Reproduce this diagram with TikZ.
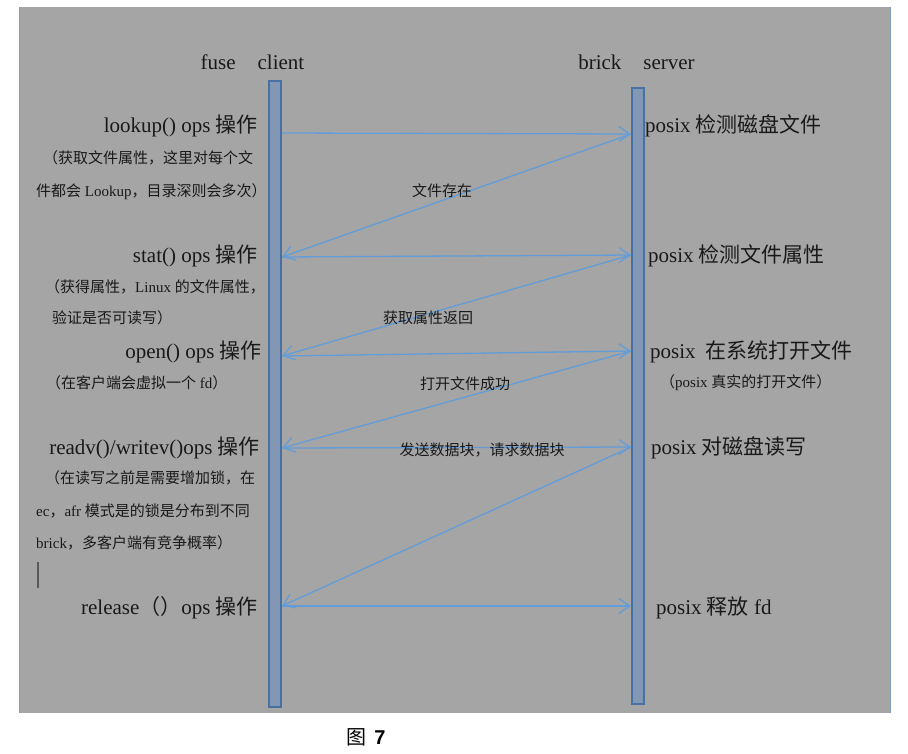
\documentclass[tikz,border=0pt]{standalone}
\usepackage{fontspec}
\setmainfont{Liberation Serif}
\newfontfamily\cjk{Noto Sans CJK SC}
\newfontfamily\capfont{Liberation Sans}
\usetikzlibrary{arrows.meta,positioning,calc}

\definecolor{bggray}{RGB}{165,165,165}
\definecolor{framecol}{RGB}{128,156,192}
\definecolor{barfill}{RGB}{130,151,180}
\definecolor{barline}{RGB}{72,112,160}
\definecolor{msgblue}{RGB}{98,157,218}

\newcommand{\zh}[1]{{\cjk #1}}
\newcommand{\bigfont}{\fontsize{21}{25}\selectfont}
\newcommand{\notefont}{\fontsize{15}{18}\selectfont}

\tikzset{
  lifeline/.style={draw=barline,fill=barfill,line width=2pt,minimum width=12pt,inner sep=0pt},
  msg/.style={draw=msgblue,line width=1.3pt,-{Straight Barb[length=11pt,width=15pt]}},
  optext/.style={font=\bigfont,inner sep=0pt,text=black!90},
  note/.style={font=\notefont,inner sep=0pt,text=black!90},
}

\begin{document}
\begin{tikzpicture}[x=1pt,y=-1pt]
    \useasboundingbox (0,0) rectangle (908,753);
    % background panel
    \fill[bggray] (19,7) rectangle (890,713);
    \draw[framecol,line width=1pt] (19,7) -- (19,713);
    \draw[framecol,line width=1pt] (890,7) -- (890,713);
    % lifelines
    \node[optext] (fuse) at (252.5,62) {fuse\hspace{22pt}client};
    \node[optext] (brick) at (636.5,62) {brick\hspace{22pt}server};
    \node[lifeline,minimum height=626pt] (client) at (275,394) {};
    \node[lifeline,minimum height=616pt] (server) at (637.5,396) {};
    % message end points on the bars
    \foreach \i/\y in {1/133,2/257,3/356,4/448,5/606}
      \coordinate (c\i) at (282,\y);
    \foreach \i/\y in {1/134,2/255,3/351,4/447,5/606}
      \coordinate (s\i) at (631,\y);
    % messages
    \foreach \a/\b in {c1/s1,s1/c2,c2/s2,s2/c3,c3/s3,s3/c4,c4/s4,s4/c5,c5/s5}
      \draw[msg] (\a) -- (\b);
    \node[note] (exist) at (442,191) {\zh{文件存在}};
    \node[note] (attrback) at (428,318) {\zh{获取属性返回}};
    \node[note] (opened) at (465,384) {\zh{打开文件成功}};
    \node[note] (blocks) at (482,450) {\zh{发送数据块，请求数据块}};
    % client side operations
    \node[optext,anchor=east] (lookup) at (258,126) {lookup() ops \zh{操作}};
    \node[note,anchor=west] (lookupa) at (43,158) {\zh{（获取文件属性，这里对每个文}};
    \node[note,anchor=west] (lookupb) at (36,192) {\zh{件都会} Lookup\zh{，目录深则会多次）}};
    \node[optext,anchor=east] (stat) at (258,256) {stat() ops \zh{操作}};
    \node[note,anchor=west] (stata) at (45,287) {\zh{（获得属性，}Linux \zh{的文件属性，}};
    \node[note,anchor=west] (statb) at (52,318) {\zh{验证是否可读写）}};
    \node[optext,anchor=east] (open) at (262,352) {open() ops \zh{操作}};
    \node[note,anchor=west] (opena) at (46,383) {\zh{（在客户端会虚拟一个} fd\zh{）}};
    \node[optext,anchor=east] (rw) at (260,448) {readv()/writev()ops \zh{操作}};
    \node[note,anchor=west] (rwa) at (45,478) {\zh{（在读写之前是需要增加锁，在}};
    \node[note,anchor=west] (rwb) at (36,511) {ec\zh{，}afr \zh{模式是的锁是分布到不同}};
    \node[note,anchor=west] (rwc) at (36,543) {brick\zh{，多客户端有竞争概率）}};
    \draw[black!65,line width=1.3pt] (38,562) -- (38,588);
    \node[optext,anchor=east] (release) at (258,608) {release\zh{（）}ops \zh{操作}};
    % server side operations
    \node[optext,anchor=west] (chkfile) at (645,126) {posix \zh{检测磁盘文件}};
    \node[optext,anchor=west] (chkattr) at (648,256) {posix \zh{检测文件属性}};
    \node[optext,anchor=west] (sysopen) at (650,352) {posix\hspace{10pt}\zh{在系统打开文件}};
    \node[note,anchor=west] (sysopena) at (660,383) {\zh{（}posix \zh{真实的打开文件）}};
    \node[optext,anchor=west] (diskrw) at (651,448) {posix \zh{对磁盘读写}};
    \node[optext,anchor=west] (freefd) at (656,608) {posix \zh{释放} fd};
    % caption
    \node[font=\fontsize{20}{24}\selectfont,text=black] (caption) at (366,737) {\zh{图}\hspace{8pt}{\capfont\bfseries 7}};
\end{tikzpicture}
\end{document}
